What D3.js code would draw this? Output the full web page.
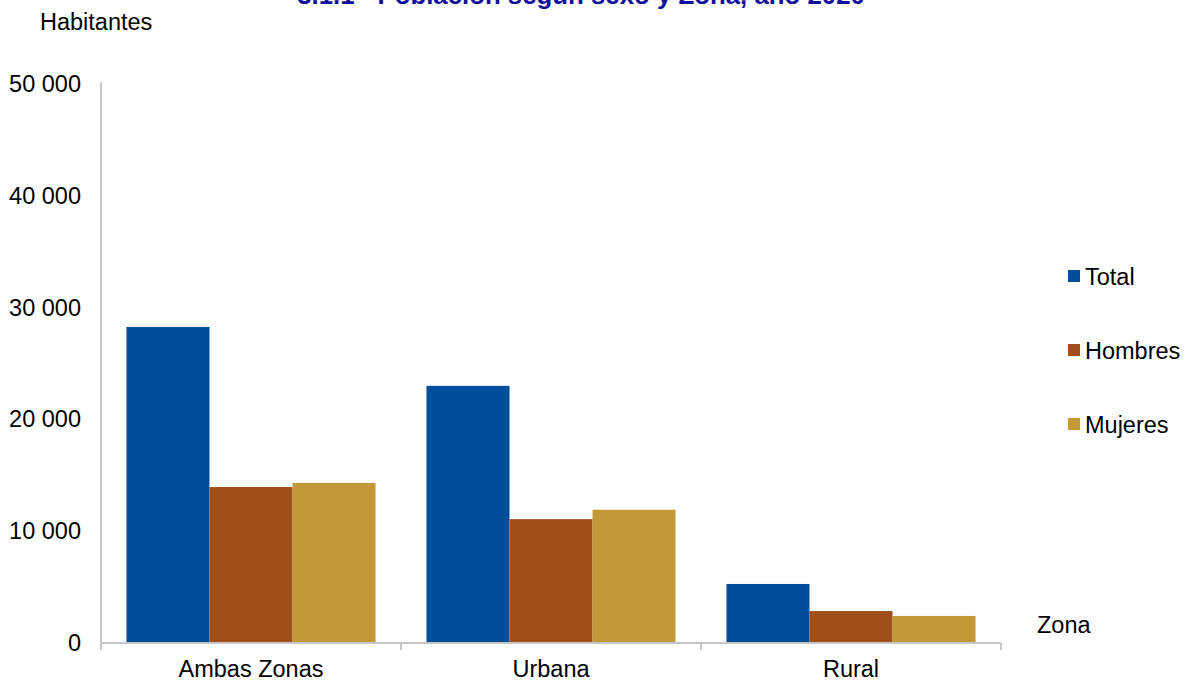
<!DOCTYPE html>
<meta charset="utf-8">
<style>
  body { margin: 0; background: #fff; }
  svg text { font-family: "Liberation Sans", Arial, sans-serif; fill: #000; }
  .axis .domain, .axis line { stroke: #c6c6c6; stroke-width: 2; }
</style>
<body>
<script src="https://d3js.org/d3.v7.min.js"></script>
<script>

  var zonas = ["Ambas Zonas", "Urbana", "Rural"];
  var series = ["Total", "Hombres", "Mujeres"];
  var colores = ["#004e9c", "#a04f1a", "#c39937"];
  var total = [28270, 23000, 5280];
  var hombres = [13950, 11080, 2860];
  var mujeres = [14320, 11920, 2420];
  var yTicks = [0, 10000, 20000, 30000, 40000, 50000];

  var valores = [total, hombres, mujeres];
  var width = 1185, height = 683;
  var margin = { top: 84, left: 101, right: 184, bottom: 40 };
  var fs = 23.5;

  var svg = d3.select("body").append("svg")
    .attr("width", width)
    .attr("height", height);

  var x = d3.scaleBand()
    .domain(zonas)
    .range([margin.left, width - margin.right])
    .paddingInner(0)
    .paddingOuter(0);

  var xs = d3.scaleBand()
    .domain(series)
    .range([0, x.bandwidth()])
    .paddingOuter(0.307)
    .paddingInner(0);

  var y = d3.scaleLinear()
    .domain([0, 50000])
    .range([height - margin.bottom, margin.top]);

  // title, cut at the top edge like the original
  svg.append("text")
    .attr("x", 581)
    .attr("y", 4)
    .attr("text-anchor", "middle")
    .style("font-weight", "bold")
    .style("font-size", "25.8px")
    .style("fill", "#10109a")
    .text("3.1.1 - Población según sexo y Zona, año 2020");

  svg.append("text")
    .attr("x", 40)
    .attr("y", 30)
    .style("font-size", fs + "px")
    .text("Habitantes");

  // bars
  series.forEach(function (s, i) {
    svg.append("g")
      .selectAll("rect")
      .data(zonas)
      .join("rect")
      .attr("x", function (d) { return x(d) + xs(s); })
      .attr("width", xs.bandwidth())
      .attr("y", function (d, j) { return y(valores[i][j]); })
      .attr("height", function (d, j) { return y(0) - y(valores[i][j]); })
      .attr("fill", colores[i]);
  });

  // y axis
  var yAxis = d3.axisLeft(y).tickValues(yTicks).tickSize(0).tickPadding(20)
    .tickFormat(function (d) { return d3.format(",")(d).replace(/,/g, " "); });
  var gy = svg.append("g")
    .attr("class", "axis")
    .attr("transform", "translate(" + margin.left + ",0)")
    .call(yAxis);
  gy.select(".domain").attr("d", "M0," + (y(50000) - 2) + "V" + y(0));
  gy.selectAll("text").style("font-size", fs + "px").attr("font-family", null);

  // x axis
  var xAxis = d3.axisBottom(x).tickSize(0).tickPadding(29);
  var gx = svg.append("g")
    .attr("class", "axis")
    .attr("transform", "translate(0," + y(0) + ")")
    .call(xAxis);
  gx.select(".domain").remove();
  gx.append("line")
    .attr("x1", margin.left).attr("x2", width - margin.right);
  gx.selectAll(".sep")
    .data(d3.range(zonas.length + 1))
    .join("line")
    .attr("class", "sep")
    .attr("x1", function (i) { return margin.left + i * x.bandwidth(); })
    .attr("x2", function (i) { return margin.left + i * x.bandwidth(); })
    .attr("y1", 0).attr("y2", 7);
  gx.selectAll("text").style("font-size", fs + "px").attr("font-family", null)
    .attr("dy", "0.2em");

  svg.append("text")
    .attr("x", 1037)
    .attr("y", 633)
    .style("font-size", fs + "px")
    .text("Zona");

  // legend
  var leg = svg.append("g")
    .selectAll("g")
    .data(series)
    .join("g")
    .attr("transform", function (d, i) { return "translate(1068," + (270 + i * 74) + ")"; });
  leg.append("rect")
    .attr("width", 12).attr("height", 12)
    .attr("fill", function (d, i) { return colores[i]; });
  leg.append("text")
    .attr("x", 17).attr("y", 15)
    .style("font-size", fs + "px")
    .text(function (d) { return d; });

</script>
